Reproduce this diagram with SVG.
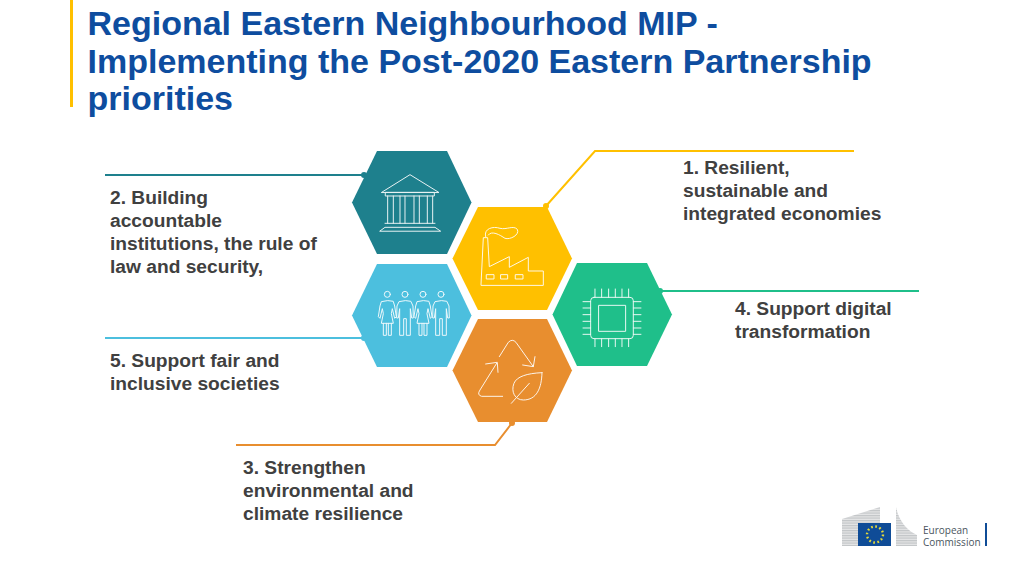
<svg xmlns="http://www.w3.org/2000/svg" width="1024" height="576" viewBox="0 0 1024 576">
<style>
.title{font:bold 34px "Liberation Sans",Arial,sans-serif;fill:#0e4d9f}
.label{font:bold 19.2px "Liberation Sans",Arial,sans-serif;fill:#404040}
.ln{fill:none;stroke-width:2}
.ic{fill:none;stroke:#fff;stroke-width:3;stroke-linejoin:round;stroke-linecap:round;opacity:.9}
.logo{font:10px "Open Sans","Liberation Sans",sans-serif;fill:#4a5560}
</style>
<defs>
<g id="woman" class="ic"><circle cx="0" cy="-63" r="9"/><path d="M0,-44L-18,-41-22,-28-27,4-22,9-15,-20-12,-5-18,24H18L12,-5 15,-20 22,9 27,4 22,-28 18,-41ZM-12,24V60H-3V24M3,24V60H12V24"/></g>
<g id="man" class="ic"><circle cx="0" cy="-63" r="9"/><path d="M0,-44L-18,-41-24,-28-25,8-20,8-16,-20V60H-4V10H4V60H16V-20L20,8H25L24,-28 18,-41Z"/></g>
<pattern id="stripes" width="4" height="2.500" patternUnits="userSpaceOnUse"><rect width="4" height="2.500" fill="#e4e5e6"/><rect width="4" height="1.200" fill="#c2c5c7"/></pattern>
</defs>
<rect x="70" y="0" width="3" height="107" fill="#ffc000"/>
<text class="title" x="87.500" y="35">Regional Eastern Neighbourhood MIP -</text>
<text class="title" x="87.500" y="73">Implementing the Post-2020 Eastern Partnership</text>
<text class="title" x="87.500" y="110">priorities</text>

<g id="connectors">
<path class="ln" stroke="#1e808d" d="M105,175H364"/><circle cx="364" cy="175" r="3" fill="#1e808d"/>
<path class="ln" stroke="#ffc000" d="M546,206L595,151H854"/><circle cx="546" cy="206" r="3" fill="#ffc000"/>
<path class="ln" stroke="#4cbfde" d="M105,338H364"/><circle cx="364" cy="338" r="3" fill="#4cbfde"/>
<path class="ln" stroke="#1fbf8a" d="M660,291H919"/><circle cx="660" cy="291" r="3" fill="#1fbf8a"/>
<path class="ln" stroke="#e88e2f" d="M236,445H495L512,423"/><circle cx="512" cy="423" r="3" fill="#e88e2f"/>
</g>

<g id="hex-institutions">
<polygon points="377,151 447,151 471.500,202.500 447,254 377,254 352,202.500" fill="#1e808d"/>
<g transform="translate(340,140) scale(.3333)" class="ic">
<path d="M125,157L210,104 296,157Z"/><rect x="137" y="157" width="146" height="11"/>
<path d="M143,168V250M160,168V250M180,168V250M195,168V250M222,168V250M238,168V250M262,168V250M278,168V250M135,250H285"/>
<path d="M120,273L135,262H285L301,273Z"/>
</g>
</g>
<g id="hex-economies">
<polygon points="478,207 547,207 572,258.500 547,310 478,310 452.500,258.500" fill="#ffc000"/>
<g transform="translate(340,140) scale(.3333)" class="ic">
<path d="M423,435L430,293H443L448,380 508,350V382L565,352V393H610V435Z"/>
<rect x="440" y="404" width="22" height="13"/><rect x="483" y="404" width="20" height="13"/><rect x="527" y="404" width="22" height="13"/>
<path d="M437,290C430,265 460,258 480,265C500,270 520,255 532,268C540,285 510,300 495,295C480,285 455,270 445,285"/>
</g>
</g>
<g id="hex-societies">
<polygon points="377,264 447,264 471.500,315.500 447,367 377,367 352,315.500" fill="#4cbfde"/>
<g transform="translate(340,255) scale(.3333)">
<use href="#woman" x="142" y="181"/><use href="#man" x="195" y="181"/><use href="#woman" x="249" y="181"/><use href="#man" x="303" y="181"/>
</g>
</g>
<g id="hex-digital">
<polygon points="577,263 647,263 672,314.500 647,366 577,366 552.500,314.500" fill="#1fbf8a"/>
<g transform="translate(340,255) scale(.3333)" class="ic">
<rect x="752" y="127" width="128" height="124" rx="10"/><rect x="777" y="151" width="80" height="78"/>
<path d="M765,102V127M785,102V127M806,102V127M826,102V127M846,102V127M866,102V127M765,251V275M785,251V275M806,251V275M826,251V275M846,251V275M866,251V275"/>
<path d="M729,140H752M729,159H752M729,179H752M729,199H752M729,219H752M729,238H752M880,140H903M880,159H903M880,179H903M880,199H903M880,219H903M880,238H903"/>
</g>
</g>
<g id="hex-environment">
<polygon points="478,319 547,319 572,370.500 547,422 478,422 452.500,370.500" fill="#e88e2f"/>
<g transform="translate(340,255) scale(.3333)" class="ic">
<path d="M478,305L505,262Q517,250 528,262L580,335M548,330L580,335 585,305"/>
<path d="M488,424H425Q410,420 420,405L470,325M437,327L472,322 474,352"/>
<path d="M606,353C560,355 530,365 522,385C512,410 525,435 550,435C590,435 605,400 606,353ZM514,445L568,385"/>
</g>
</g>

<g id="label-1" class="label"><text x="683" y="174">1. Resilient,</text><text x="683" y="197">sustainable and</text><text x="683" y="220">integrated economies</text></g>
<g id="label-2" class="label"><text x="110" y="204">2. Building</text><text x="110" y="227">accountable</text><text x="110" y="250">institutions, the rule of</text><text x="110" y="273">law and security,</text></g>
<g id="label-3" class="label"><text x="243" y="474">3. Strengthen</text><text x="243" y="497">environmental and</text><text x="243" y="520">climate resilience</text></g>
<g id="label-4" class="label"><text x="735" y="315">4. Support digital</text><text x="735" y="338">transformation</text></g>
<g id="label-5" class="label"><text x="110" y="367">5. Support fair and</text><text x="110" y="390">inclusive societies</text></g>

<g id="logo">
<path d="M842,519L880,507V523H858V546H842Z" fill="url(#stripes)"/>
<path d="M896,507C899,522 908,531 917,535V546H896Z" fill="url(#stripes)"/>
<rect x="858" y="523" width="33" height="23" fill="#0f4c97"/>
<circle cx="875" cy="534.500" r="8" fill="none" stroke="#e5d93a" stroke-width="2.400" stroke-dasharray="1.700 2.490"/>
<text class="logo" x="923" y="534">European</text>
<text class="logo" x="923" y="546">Commission</text>
<rect x="985" y="523" width="2" height="23" fill="#0f4c97"/>
</g>
</svg>
